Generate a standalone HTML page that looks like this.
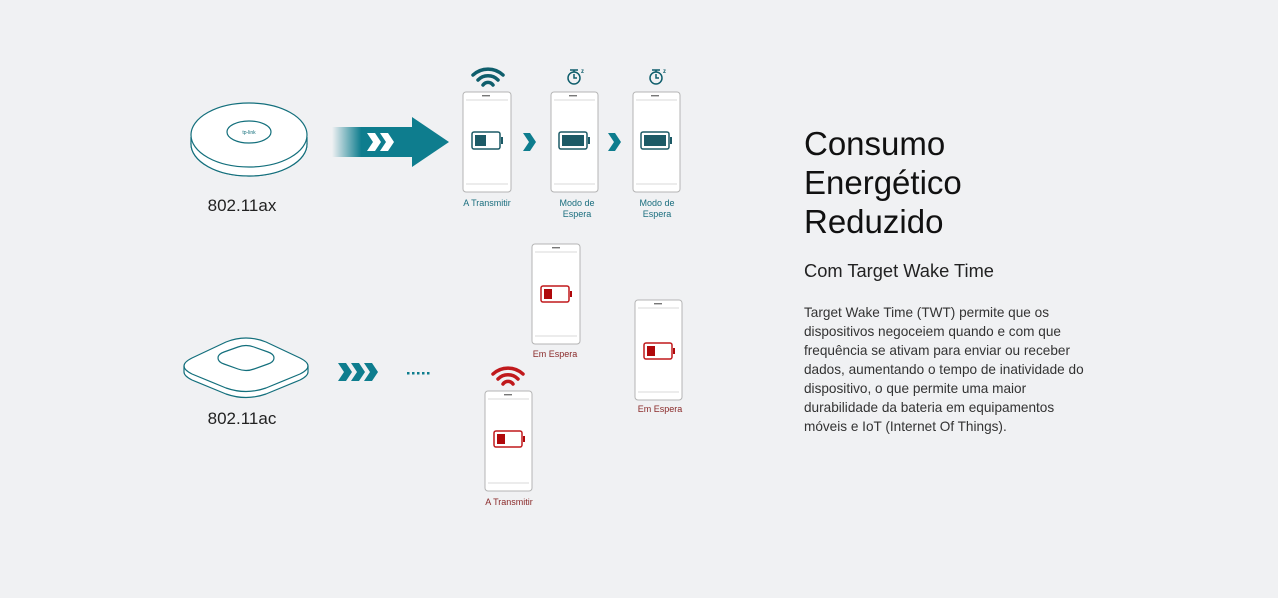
<!DOCTYPE html>
<html><head><meta charset="utf-8"><style>
body{margin:0;width:1278px;height:598px;background:#f0f1f3;overflow:hidden;position:relative;font-family:"Liberation Sans",sans-serif;}
svg{position:absolute;left:0;top:0}
.t{position:absolute;left:804px;color:#111;}
</style></head><body>
<svg width="760" height="598" viewBox="0 0 760 598" font-family="Liberation Sans, sans-serif">
<defs>
<linearGradient id="g" x1="0" x2="1"><stop offset="0" stop-color="#0e7d8e" stop-opacity="0"/><stop offset="0.25" stop-color="#0e7d8e"/><stop offset="1" stop-color="#0e7d8e"/></linearGradient>
</defs>
<ellipse cx="249" cy="144" rx="58" ry="32" fill="#fff" stroke="#136f7c" stroke-width="1.2"/>
<path d="M191 137 v7 a58 32 0 0 0 116 0 v-7" fill="#fff" stroke="#136f7c" stroke-width="1.2"/>
<ellipse cx="249" cy="135" rx="58" ry="32" fill="#fff" stroke="#136f7c" stroke-width="1.2"/>
<ellipse cx="249" cy="132" rx="22" ry="11" fill="#fff" stroke="#136f7c" stroke-width="1.2"/>
<text x="249" y="134" font-size="5" fill="#136f7c" text-anchor="middle">tp-link</text>
<text x="242" y="211" font-size="17" fill="#222" text-anchor="middle">802.11ax</text>
<path d="M332 127 h80 v-10 l37 25 l-37 25 v-10 h-80z" fill="url(#g)"/>
<path d="M367 133 l6 9 l-6 9 h8 l6 -9 l-6 -9z M380 133 l6 9 l-6 9 h8 l6 -9 l-6 -9z" fill="#fff"/>
<path d="M523 133 l6 9 l-6 9 h7 l6 -9 l-6 -9z" fill="#0e7d8e"/>
<path d="M608 133 l6 9 l-6 9 h7 l6 -9 l-6 -9z" fill="#0e7d8e"/>
<g fill="#fff" stroke="#b4b4b4" stroke-width="1">
<rect x="463" y="92" width="48" height="100" rx="3"/>
<rect x="551" y="92" width="47" height="100" rx="3"/>
<rect x="633" y="92" width="47" height="100" rx="3"/>
<rect x="532" y="244" width="48" height="100" rx="3"/>
<rect x="635" y="300" width="47" height="100" rx="3"/>
<rect x="485" y="391" width="47" height="100" rx="3"/>
</g>
<g stroke="#ccc" stroke-width="0.8">
<path d="M466 100h42M466 184h42M554 100h41M554 184h41M636 100h41M636 184h41M535 252h42M535 336h42M638 308h41M638 392h41M488 399h41M488 483h41"/>
</g>
<g fill="#777">
<rect x="482" y="95" width="8" height="1.4"/><rect x="569" y="95" width="8" height="1.4"/><rect x="651" y="95" width="8" height="1.4"/>
<rect x="552" y="247" width="8" height="1.4"/><rect x="654" y="303" width="8" height="1.4"/><rect x="504" y="394" width="8" height="1.4"/>
</g>
<g stroke="#1c5a66" stroke-width="1.5" fill="none">
<rect x="472" y="132" width="28" height="17" rx="2"/><rect x="559" y="132" width="28" height="17" rx="2"/><rect x="641" y="132" width="28" height="17" rx="2"/>
</g>
<g fill="#1c5a66">
<rect x="475" y="135" width="11" height="11"/><rect x="562" y="135" width="22" height="11"/><rect x="644" y="135" width="22" height="11"/>
<rect x="501" y="137" width="2" height="7"/><rect x="588" y="137" width="2" height="7"/><rect x="670" y="137" width="2" height="7"/>
</g>
<g stroke="#c0191c" stroke-width="1.5" fill="none">
<rect x="541" y="286" width="28" height="16" rx="2"/><rect x="644" y="343" width="28" height="16" rx="2"/><rect x="494" y="431" width="28" height="16" rx="2"/>
</g>
<g fill="#b0080b">
<rect x="544" y="289" width="8" height="10"/><rect x="647" y="346" width="8" height="10"/><rect x="497" y="434" width="8" height="10"/>
<rect x="570" y="291" width="2" height="6"/><rect x="673" y="348" width="2" height="6"/><rect x="523" y="436" width="2" height="6"/>
</g>
<g fill="none" stroke="#0f5e6c" stroke-width="3.5" stroke-linecap="round">
<path d="M473 75 a22 22 0 0 1 30 0"/><path d="M478 80 a14 14 0 0 1 20 0"/><path d="M483 85 a6 6 0 0 1 10 0"/>
</g>
<g fill="none" stroke="#c0191c" stroke-width="3.5" stroke-linecap="round">
<path d="M493 374 a22 22 0 0 1 30 0"/><path d="M498 379 a14 14 0 0 1 20 0"/><path d="M503 384 a6 6 0 0 1 10 0"/>
</g>
<g fill="none" stroke="#0f5e6c" stroke-width="1.5">
<circle cx="574" cy="78" r="6"/><path d="M574 74v4h3M570 70h8M574 70v2"/>
<circle cx="656" cy="78" r="6"/><path d="M656 74v4h3M652 70h8M656 70v2"/>
</g>
<text x="581" y="73" font-size="6" font-weight="bold" fill="#0f5e6c">z</text>
<text x="663" y="73" font-size="6" font-weight="bold" fill="#0f5e6c">z</text>
<g font-size="9" fill="#1a6e7e" text-anchor="middle">
<text x="487" y="206">A Transmitir</text>
<text x="577" y="206">Modo de</text><text x="577" y="217">Espera</text>
<text x="657" y="206">Modo de</text><text x="657" y="217">Espera</text>
</g>
<g font-size="9" fill="#8a2a2a" text-anchor="middle">
<text x="555" y="357">Em Espera</text>
<text x="660" y="412">Em Espera</text>
<text x="509" y="505">A Transmitir</text>
</g>
<path d="M184 366 q0 -4 8 -8 l34 -16 q20 -8 40 0 l34 16 q8 4 8 8 v6 q0 4 -8 8 l-34 14 q-20 7 -40 0 l-34 -14 q-8 -4 -8 -8z" fill="#fff" stroke="#136f7c" stroke-width="1.2"/>
<path d="M184 366 q0 4 8 8 l34 14 q20 7 40 0 l34 -14 q8 -4 8 -8" fill="none" stroke="#136f7c" stroke-width="1.2"/>
<path d="M218 358 q0 -4 6 -6 l14 -5 q8 -3 16 0 l14 5 q6 2 6 6 q0 4 -6 6 l-14 5 q-8 3 -16 0 l-14 -5 q-6 -2 -6 -6z" fill="#fff" stroke="#136f7c" stroke-width="1.2"/>
<text x="242" y="424" font-size="17" fill="#222" text-anchor="middle">802.11ac</text>
<path d="M338 363 l6 9 l-6 9 h8 l6 -9 l-6 -9z M351 363 l6 9 l-6 9 h8 l6 -9 l-6 -9z M364 363 l6 9 l-6 9 h8 l6 -9 l-6 -9z" fill="#0e7d8e"/>
<g fill="#0e7d8e"><rect x="407" y="372" width="2.5" height="2.5"/><rect x="412" y="372" width="2.5" height="2.5"/><rect x="417" y="372" width="2.5" height="2.5"/><rect x="422" y="372" width="2.5" height="2.5"/><rect x="427" y="372" width="2.5" height="2.5"/></g>
</svg>
<div class="t" style="top:124px;font-size:33px;line-height:39px;">Consumo<br>Energético<br>Reduzido</div>
<div class="t" style="top:260px;font-size:18.3px;line-height:22px;color:#222">Com Target Wake Time</div>
<div class="t" style="top:303px;font-size:13.6px;line-height:19px;color:#333">Target Wake Time (TWT) permite que os<br>dispositivos negoceiem quando e com que<br>frequência se ativam para enviar ou receber<br>dados, aumentando o tempo de inatividade do<br>dispositivo, o que permite uma maior<br>durabilidade da bateria em equipamentos<br>móveis e IoT (Internet Of Things).</div>
</body></html>
